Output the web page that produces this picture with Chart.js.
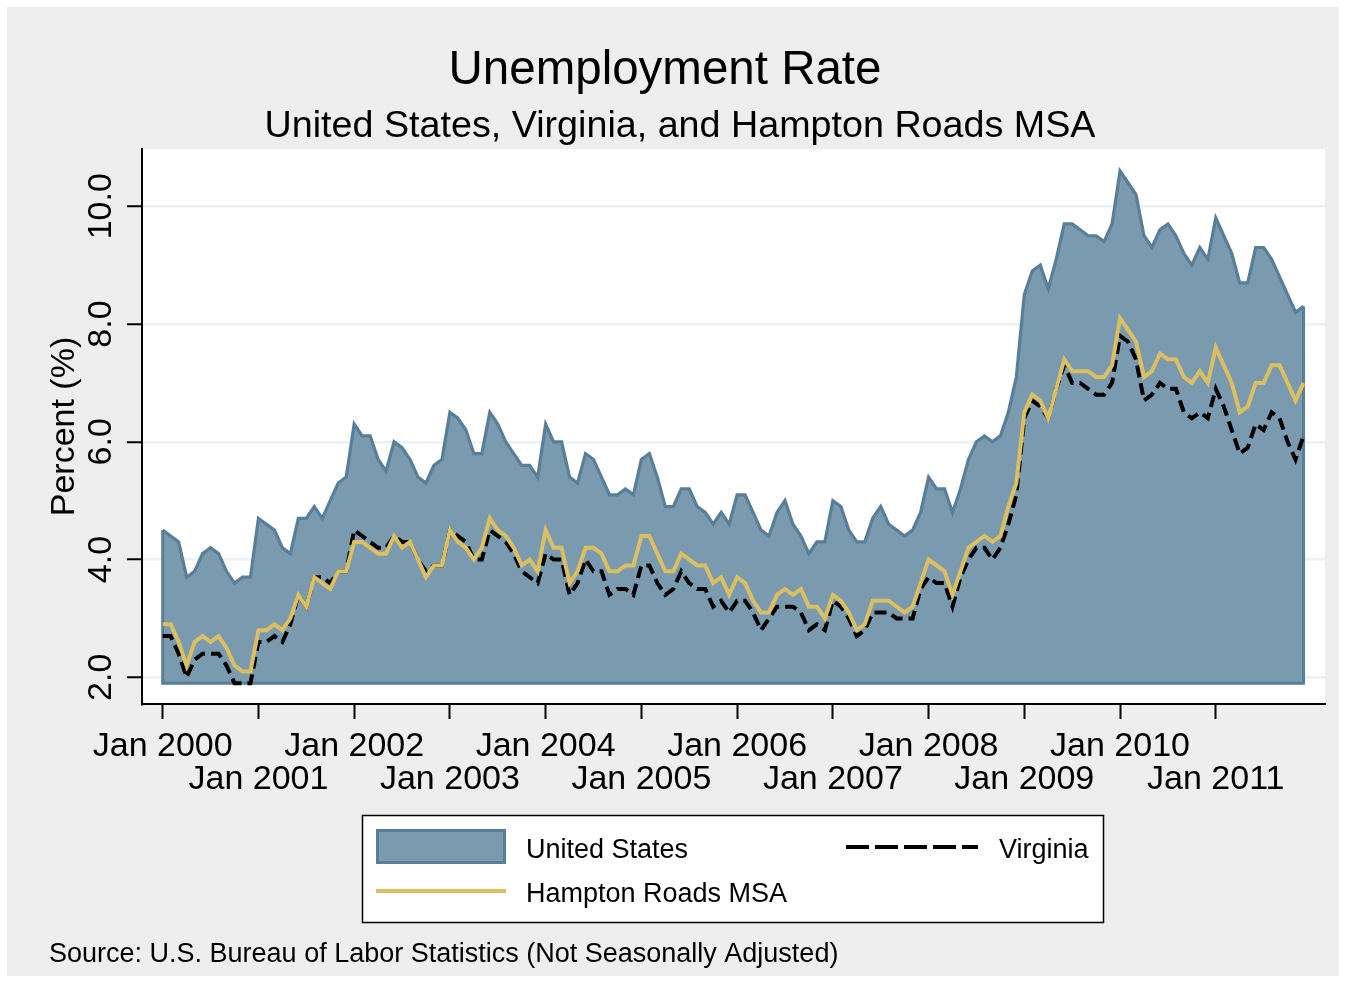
<!DOCTYPE html>
<html>
<head>
<meta charset="utf-8">
<title>Unemployment Rate</title>
<script src="https://cdn.jsdelivr.net/npm/chart.js@4.4.0/dist/chart.umd.min.js"></script>
<style>
  html, body { margin: 0; padding: 0; background: #fff; }
  #wrap { width: 1346px; height: 983px; }
</style>
</head>
<body>
<div id="wrap"><canvas id="unempChart" width="1346" height="983"></canvas></div>
<script>
// x tick positions are months counted from Jan 2000
const tickMonths = [0, 12, 24, 36, 48, 60, 72, 84, 96, 108, 120, 132];
const tickLabels = ['Jan 2000', 'Jan 2001', 'Jan 2002', 'Jan 2003', 'Jan 2004', 'Jan 2005',
  'Jan 2006', 'Jan 2007', 'Jan 2008', 'Jan 2009', 'Jan 2010', 'Jan 2011'];
const yTicks = [2, 4, 6, 8, 10];

// monthly rates, Jan 2000 - Dec 2011 (one row per year)
const usRate = [
  4.5, 4.4, 4.3, 3.7, 3.8, 4.1, 4.2, 4.1, 3.8, 3.6, 3.7, 3.7,
  4.7, 4.6, 4.5, 4.2, 4.1, 4.7, 4.7, 4.9, 4.7, 5.0, 5.3, 5.4,
  6.3, 6.1, 6.1, 5.7, 5.5, 6.0, 5.9, 5.7, 5.4, 5.3, 5.6, 5.7,
  6.5, 6.4, 6.2, 5.8, 5.8, 6.5, 6.3, 6.0, 5.8, 5.6, 5.6, 5.4,
  6.3, 6.0, 6.0, 5.4, 5.3, 5.8, 5.7, 5.4, 5.1, 5.1, 5.2, 5.1,
  5.7, 5.8, 5.4, 4.9, 4.9, 5.2, 5.2, 4.9, 4.8, 4.6, 4.8, 4.6,
  5.1, 5.1, 4.8, 4.5, 4.4, 4.8, 5.0, 4.6, 4.4, 4.1, 4.3, 4.3,
  5.0, 4.9, 4.5, 4.3, 4.3, 4.7, 4.9, 4.6, 4.5, 4.4, 4.5, 4.8,
  5.4, 5.2, 5.2, 4.8, 5.2, 5.7, 6.0, 6.1, 6.0, 6.1, 6.5, 7.1,
  8.5, 8.9, 9.0, 8.6, 9.1, 9.7, 9.7, 9.6, 9.5, 9.5, 9.4, 9.7,
  10.6, 10.4, 10.2, 9.5, 9.3, 9.6, 9.7, 9.5, 9.2, 9.0, 9.3, 9.1,
  9.8, 9.5, 9.2, 8.7, 8.7, 9.3, 9.3, 9.1, 8.8, 8.5, 8.2, 8.3
];
const vaRate = [
  2.7, 2.7, 2.4, 2.0, 2.3, 2.4, 2.4, 2.4, 2.2, 1.9, 1.9, 1.9,
  2.6, 2.6, 2.7, 2.6, 2.9, 3.4, 3.2, 3.7, 3.7, 3.6, 3.8, 3.8,
  4.5, 4.4, 4.3, 4.2, 4.2, 4.4, 4.3, 4.3, 4.0, 3.8, 3.9, 3.9,
  4.5, 4.4, 4.3, 4.0, 4.0, 4.5, 4.4, 4.3, 4.1, 3.8, 3.7, 3.6,
  4.1, 4.0, 4.0, 3.4, 3.6, 4.0, 3.8, 3.8, 3.4, 3.5, 3.5, 3.4,
  3.9, 3.9, 3.6, 3.4, 3.5, 3.8, 3.6, 3.5, 3.5, 3.2, 3.3, 3.1,
  3.3, 3.3, 3.1, 2.8, 3.0, 3.2, 3.2, 3.2, 3.1, 2.8, 2.9, 2.8,
  3.3, 3.2, 3.0, 2.7, 2.8, 3.1, 3.1, 3.1, 3.0, 3.0, 3.0, 3.5,
  3.7, 3.6, 3.6, 3.2, 3.7, 4.0, 4.2, 4.2, 4.0, 4.2, 4.6, 5.1,
  6.4, 6.7, 6.6, 6.4, 6.9, 7.3, 7.0, 7.0, 6.9, 6.8, 6.8, 7.0,
  7.8, 7.7, 7.4, 6.7, 6.8, 7.0, 6.9, 6.9, 6.5, 6.4, 6.5, 6.4,
  6.9, 6.6, 6.2, 5.8, 5.9, 6.3, 6.2, 6.5, 6.4, 6.0, 5.7, 6.1
];
const hrRate = [
  2.9, 2.9, 2.6, 2.2, 2.6, 2.7, 2.6, 2.7, 2.5, 2.2, 2.1, 2.1,
  2.8, 2.8, 2.9, 2.8, 3.0, 3.4, 3.2, 3.7, 3.6, 3.5, 3.8, 3.8,
  4.3, 4.3, 4.2, 4.1, 4.1, 4.4, 4.2, 4.3, 4.0, 3.7, 3.9, 3.9,
  4.5, 4.3, 4.2, 4.0, 4.2, 4.7, 4.5, 4.4, 4.2, 3.9, 4.0, 3.8,
  4.5, 4.2, 4.2, 3.6, 3.8, 4.2, 4.2, 4.1, 3.8, 3.8, 3.9, 3.9,
  4.4, 4.4, 4.1, 3.8, 3.8, 4.1, 4.0, 3.9, 3.9, 3.6, 3.7, 3.4,
  3.7, 3.6, 3.3, 3.1, 3.1, 3.4, 3.5, 3.4, 3.5, 3.2, 3.2, 3.0,
  3.4, 3.3, 3.1, 2.8, 2.9, 3.3, 3.3, 3.3, 3.2, 3.1, 3.2, 3.6,
  4.0, 3.9, 3.8, 3.4, 3.8, 4.2, 4.3, 4.4, 4.3, 4.4, 4.9, 5.3,
  6.5, 6.8, 6.7, 6.4, 6.9, 7.4, 7.2, 7.2, 7.2, 7.1, 7.1, 7.3,
  8.1, 7.9, 7.7, 7.1, 7.2, 7.5, 7.4, 7.4, 7.1, 7.0, 7.2, 7.0,
  7.6, 7.3, 7.0, 6.5, 6.6, 7.0, 7.0, 7.3, 7.3, 7.0, 6.7, 7.0
];

const areaBase = 1.9;
const FONT = '"Liberation Sans", Arial, Helvetica, sans-serif';
const AREA_FILL = '#7a9ab0';
const AREA_LINE = '#587e98';
const HR_LINE = '#dbbf60';

function toPoints(values) {
  return values.map((v, i) => ({ x: i, y: v }));
}

// grey frame + white plot region
const backdrop = {
  id: 'backdrop',
  beforeDraw(chart) {
    const { ctx, chartArea: a } = chart;
    ctx.save();
    ctx.fillStyle = '#ffffff';
    ctx.fillRect(0, 0, chart.width, chart.height);
    ctx.fillStyle = '#eeeeee';
    ctx.fillRect(7, 7, chart.width - 14, chart.height - 14);
    ctx.fillStyle = '#ffffff';
    ctx.fillRect(a.left, a.top, a.right - a.left, a.bottom - a.top);
    ctx.restore();
  }
};

// outline the sides and bottom of the US area, like the original
const areaEdges = {
  id: 'areaEdges',
  afterDatasetDraw(chart, args) {
    if (args.index !== 0) return;
    const pts = args.meta.data;
    const first = pts[0], last = pts[pts.length - 1];
    const base = chart.scales.y.getPixelForValue(areaBase);
    const ctx = chart.ctx;
    ctx.save();
    ctx.strokeStyle = AREA_LINE;
    ctx.lineWidth = 3;
    ctx.lineJoin = 'miter';
    ctx.beginPath();
    ctx.moveTo(first.x, first.y);
    ctx.lineTo(first.x, base);
    ctx.lineTo(last.x, base);
    ctx.lineTo(last.x, last.y);
    ctx.stroke();
    ctx.restore();
  }
};

// titles, legend box and source note
const decor = {
  id: 'decor',
  afterDraw(chart) {
    const ctx = chart.ctx;
    const ds = chart.data.datasets;
    ctx.save();
    ctx.fillStyle = '#000';
    ctx.textAlign = 'center';
    ctx.textBaseline = 'alphabetic';
    ctx.font = '47.5px ' + FONT;
    ctx.fillText('Unemployment Rate', 665, 84);
    ctx.font = '37.7px ' + FONT;
    ctx.fillText('United States, Virginia, and Hampton Roads MSA', 680, 137);

    ctx.fillStyle = '#fff';
    ctx.fillRect(362, 815, 741, 107);
    ctx.strokeStyle = '#000';
    ctx.lineWidth = 1.5;
    ctx.strokeRect(362.5, 815.5, 741, 107);

    ctx.fillStyle = AREA_FILL;
    ctx.fillRect(376, 829, 130, 35);
    ctx.strokeStyle = AREA_LINE;
    ctx.lineWidth = 3;
    ctx.strokeRect(377.5, 830.5, 127, 32);

    ctx.strokeStyle = '#000';
    ctx.lineWidth = 4;
    ctx.setLineDash([23, 6]);
    ctx.beginPath();
    ctx.moveTo(846, 847);
    ctx.lineTo(978, 847);
    ctx.stroke();
    ctx.setLineDash([]);

    ctx.strokeStyle = HR_LINE;
    ctx.beginPath();
    ctx.moveTo(376, 891);
    ctx.lineTo(506, 891);
    ctx.stroke();

    ctx.fillStyle = '#000';
    ctx.textAlign = 'left';
    ctx.font = '27px ' + FONT;
    ctx.fillText(ds[0].label, 526, 858);
    ctx.fillText(ds[1].label, 999, 858);
    ctx.fillText(ds[2].label, 526, 902);
    ctx.fillText('Source: U.S. Bureau of Labor Statistics (Not Seasonally Adjusted)', 49, 962);
    ctx.restore();
  }
};

const ctx = document.getElementById('unempChart').getContext('2d');
const unempChart = new Chart(ctx, {
  type: 'line',
  data: {
    datasets: [{
      label: 'United States',
      data: toPoints(usRate),
      fill: { value: areaBase },
      backgroundColor: AREA_FILL,
      borderColor: AREA_LINE,
      borderWidth: 3.2,
      pointRadius: 0,
      tension: 0,
      order: 3
    }, {
      label: 'Virginia',
      data: toPoints(vaRate),
      fill: false,
      borderColor: '#000',
      borderWidth: 4,
      borderDash: [12, 6],
      pointRadius: 0,
      tension: 0,
      order: 2
    }, {
      label: 'Hampton Roads MSA',
      data: toPoints(hrRate),
      fill: false,
      borderColor: HR_LINE,
      borderWidth: 4,
      pointRadius: 0,
      tension: 0,
      order: 1
    }]
  },
  options: {
    responsive: false,
    animation: false,
    layout: { padding: { top: 149, right: 21, bottom: 0, left: 0 } },
    plugins: {
      legend: { display: false },
      tooltip: { enabled: false },
      title: { display: false }
    },
    scales: {
      x: {
        type: 'linear',
        min: -2.595,
        max: 145.69,
        afterBuildTicks: (scale) => { scale.ticks = tickMonths.map(v => ({ value: v })); },
        afterFit: (scale) => { scale.height = 279; },
        grid: { drawOnChartArea: false, tickLength: 15, tickColor: '#000', tickWidth: 2 },
        border: { color: '#000', width: 2 },
        ticks: {
          autoSkip: false,
          minRotation: 0,
          maxRotation: 0,
          padding: 11,
          color: '#000',
          font: { family: FONT, size: 34, lineHeight: 0.97 },
          callback: (value) => {
            const i = tickMonths.indexOf(value);
            return i % 2 === 0 ? tickLabels[i] : ['', tickLabels[i]];
          }
        }
      },
      y: {
        min: 1.5465,
        max: 10.973,
        afterBuildTicks: (scale) => { scale.ticks = yTicks.map(v => ({ value: v })); },
        afterFit: (scale) => { scale.width = 142; },
        grid: { color: '#eaf2f3', lineWidth: 2.5, tickLength: 15, tickColor: '#000', tickWidth: 2 },
        border: { color: '#000', width: 2 },
        ticks: {
          minRotation: 90,
          maxRotation: 90,
          crossAlign: 'center',
          padding: -7.6,
          color: '#000',
          font: { family: FONT, size: 34 },
          callback: (value) => value.toFixed(1)
        },
        title: {
          display: true,
          text: 'Percent (%)',
          color: '#000',
          font: { family: FONT, size: 34 },
          padding: { top: 44.6, bottom: 0 }
        }
      }
    }
  },
  plugins: [backdrop, areaEdges, decor]
});
</script>
</body>
</html>
